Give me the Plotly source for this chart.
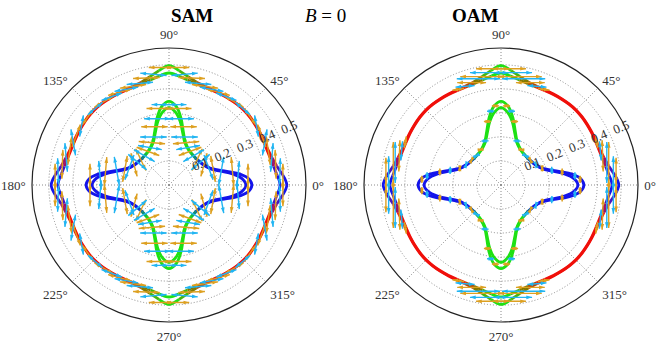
import math
import plotly.graph_objects as go

# ---------------- data ----------------
# Curve radii for theta = 0..90 deg in 5 deg steps (first quadrant);
# the curves are symmetric under reflection in both axes.
quad_angles = list(range(0, 95, 5))
inner_a = [0.345, 0.330, 0.285, 0.230, 0.195, 0.178, 0.168, 0.162, 0.159, 0.158,
           0.159, 0.162, 0.168, 0.178, 0.195, 0.230, 0.285, 0.330, 0.348]
inner_b = [0.320, 0.305, 0.268, 0.222, 0.190, 0.175, 0.166, 0.161, 0.158, 0.157,
           0.158, 0.161, 0.166, 0.175, 0.190, 0.222, 0.268, 0.305, 0.322]
outer_a = [0.490, 0.475, 0.455, 0.443, 0.437, 0.436, 0.437, 0.439, 0.441, 0.442,
           0.441, 0.439, 0.437, 0.436, 0.437, 0.443, 0.458, 0.478, 0.497]
outer_b = [0.462, 0.452, 0.442, 0.436, 0.433, 0.433, 0.435, 0.437, 0.439, 0.440,
           0.439, 0.437, 0.435, 0.433, 0.433, 0.436, 0.444, 0.455, 0.466]

# Arrows, first quadrant: base angle (deg), base radius, direction (deg), length
sam_orange = dict(theta=[4, 11, 19, 28, 40, 52, 62, 70, 78, 86,
                         5, 12, 20, 30, 42, 58, 68, 76, 84],
                  r=[0.475, 0.452, 0.437, 0.437, 0.441, 0.44, 0.437, 0.437, 0.455, 0.49,
                     0.33, 0.27, 0.195, 0.168, 0.158, 0.165, 0.19, 0.25, 0.32],
                  dirs=[90, 92, 98, 110, 125, 150, 165, 172, 178, 180,
                        90, 95, 100, 75, 65, 20, 5, 0, 180],
                  length=[0.11, 0.12, 0.12, 0.10, 0.08, 0.09, 0.10, 0.11, 0.11, 0.10,
                          0.12, 0.12, 0.11, 0.10, 0.10, 0.10, 0.11, 0.11, 0.12])
sam_cyan = dict(theta=[7, 15, 24, 34, 46, 57, 66, 74, 82,
                       8, 15, 24, 36, 50, 63, 72, 80, 87],
                r=[0.465, 0.443, 0.436, 0.439, 0.442, 0.438, 0.436, 0.44, 0.465,
                   0.29, 0.225, 0.18, 0.162, 0.16, 0.175, 0.21, 0.28, 0.335],
                dirs=[88, 85, 80, 100, 140, 160, 170, 175, 5,
                      85, 80, 110, 40, 30, 10, 0, 0, 0],
                length=[0.11, 0.12, 0.11, 0.09, 0.08, 0.09, 0.10, 0.11, 0.11,
                        0.12, 0.12, 0.11, 0.10, 0.10, 0.10, 0.11, 0.11, 0.11])
oam_orange = dict(theta=[4, 10, 16, 24, 66, 74, 80, 86,
                         4, 12, 22, 40, 60, 78, 86],
                  r=[0.48, 0.455, 0.44, 0.436, 0.436, 0.443, 0.458, 0.485,
                     0.33, 0.26, 0.185, 0.16, 0.17, 0.27, 0.33],
                  dirs=[90, 90, 92, 100, 170, 180, 180, 180,
                        90, 90, 95, 120, 170, 180, 180],
                  length=[0.16, 0.20, 0.13, 0.05, 0.05, 0.12, 0.18, 0.14,
                          0.03, 0.03, 0.025, 0.02, 0.025, 0.03, 0.03])
oam_cyan = dict(theta=[6, 12, 19, 70, 78, 84,
                       7, 16, 30, 50, 70, 82],
                r=[0.47, 0.45, 0.437, 0.437, 0.452, 0.47,
                   0.31, 0.22, 0.168, 0.159, 0.195, 0.31],
                dirs=[90, 90, 95, 175, 180, 180,
                      90, 92, 110, 150, 178, 180],
                length=[0.14, 0.17, 0.08, 0.08, 0.18, 0.16,
                        0.03, 0.03, 0.02, 0.02, 0.03, 0.03])

angle_ticks = [0, 45, 90, 135, 180, 225, 270, 315]
angle_labels = ["0°", "45°", "90°", "135°", "180°", "225°", "270°", "315°"]
radial_ticks = [0.1, 0.2, 0.3, 0.4, 0.5]
radial_labels = ["0.1", "0.2", "0.3", "0.4", "0.5"]
panel_titles = ["SAM", "OAM"]

# ---------------- helpers ----------------
def full_curve(q):
    th, rr = [], []
    for a in range(0, 365, 5):
        f = a % 180
        if f > 90:
            f = 180 - f
        th.append(a)
        rr.append(q[f // 5])
    return th, rr

def mix(c1, c2, t):
    return tuple(c1[i] + (c2[i] - c1[i]) * t for i in range(3))

def stop_colour(stops, x):
    for (x0, c0), (x1, c1) in zip(stops, stops[1:]):
        if x0 <= x <= x1:
            t = 0 if x1 == x0 else (x - x0) / (x1 - x0)
            c = mix(c0, c1, t)
            return "rgb(%d,%d,%d)" % c
    c = stops[-1][1]
    return "rgb(%d,%d,%d)" % c

BLUE = (20, 20, 235)
GREEN = (30, 225, 20)
TEAL = (10, 120, 150)
RED = (240, 15, 10)
PURPLE = (110, 20, 160)
OLIVE = (140, 115, 0)
inner_stops = [(0, BLUE), (32, BLUE), (45, TEAL), (57, GREEN), (90, GREEN)]
outer_stops = [(0, BLUE), (4, BLUE), (10, PURPLE), (17, RED), (67, RED), (77, OLIVE), (86, GREEN), (90, GREEN)]

def fold(a):
    f = a % 180
    return 180 - f if f > 90 else f

def colour_runs(th, rr, stops):
    cols = [stop_colour(stops, fold(th[j] + 2.5)) for j in range(len(th) - 1)]
    runs = []
    for j, c in enumerate(cols):
        if runs and runs[-1][0] == c:
            runs[-1][1].append(j)
        else:
            runs.append((c, [j]))
    out = []
    for c, js in runs:
        idx = list(range(js[0], js[-1] + 2))
        out.append([c, [th[i] for i in idx], [rr[i] for i in idx]])
    if len(out) > 1 and out[0][0] == out[-1][0]:
        last = out.pop()
        out[0] = [last[0], last[1] + out[0][1][1:], last[2] + out[0][2][1:]]
    return out

def reflect(arr):
    th, rr, dd, ll = [], [], [], []
    for t, r, d, l in zip(arr["theta"], arr["r"], arr["dirs"], arr["length"]):
        for tt, ddir in ((t, d), (180 - t, 180 - d), (180 + t, d), (360 - t, -d)):
            th.append(tt); rr.append(r); dd.append(ddir); ll.append(l)
    return th, rr, dd, ll

def arrow_trace(arr, colour, sub):
    th, rr, dd, ll = reflect(arr)
    R, T, ANG = [], [], []
    for t, r, d, l in zip(th, rr, dd, ll):
        x0 = r * math.cos(math.radians(t)); y0 = r * math.sin(math.radians(t))
        ux = math.cos(math.radians(d)); uy = math.sin(math.radians(d))
        h = l / 2
        for s in (-1, 1):
            x = x0 + s * h * ux; y = y0 + s * h * uy
            R.append(math.hypot(x, y)); T.append(math.degrees(math.atan2(y, x)))
            ANG.append(90 - d if s == 1 else 270 - d)
        R.append(None); T.append(None); ANG.append(0)
    return go.Scatterpolar(r=R, theta=T, mode="lines+markers", subplot=sub,
                           line=dict(color=colour, width=1.4),
                           marker=dict(symbol="arrow", size=6, color=colour, angle=ANG, angleref="up"),
                           hoverinfo="skip", showlegend=False)

fig = go.Figure()
for k, sub in enumerate(["polar", "polar2"]):
    for q, stops in ((outer_a, outer_stops), (outer_b, outer_stops), (inner_a, inner_stops), (inner_b, inner_stops)):
        th, rr = full_curve(q)
        for col, tseg, rseg in colour_runs(th, rr, stops):
            fig.add_trace(go.Scatterpolar(r=rseg, theta=tseg, mode="lines", subplot=sub,
                                          line=dict(color=col, width=2.8, shape="spline", smoothing=1),
                                          hoverinfo="skip", showlegend=False))
    oa, ca = (sam_orange, sam_cyan) if k == 0 else (oam_orange, oam_cyan)
    fig.add_trace(arrow_trace(oa, "#DDA020", sub))
    fig.add_trace(arrow_trace(ca, "#22B5F2", sub))

W, H = 664, 349
PAD = "\u2007\u2007\u2007\u2007"
def polar_layout(cx):
    rad = 137
    cy = 185
    return dict(
        domain=dict(x=[(cx - rad) / W, (cx + rad) / W], y=[(H - cy - rad) / H, (H - cy + rad) / H]),
        bgcolor="white",
        radialaxis=dict(range=[0, 0.57], tickvals=radial_ticks, ticktext=[PAD + t for t in radial_labels],
                        angle=22.5, side="counterclockwise", tickangle=0, showline=False, ticks="",
                        gridcolor="#8a8a8a", griddash="1px,2px", gridwidth=1,
                        tickfont=dict(family="Liberation Serif", size=13, color="#333")),
        angularaxis=dict(tickvals=angle_ticks, ticktext=angle_labels, direction="counterclockwise",
                         rotation=0, showline=True, linecolor="#222", linewidth=1.2,
                         ticks="outside", ticklen=3, tickcolor="rgba(0,0,0,0)",
                         gridcolor="#8a8a8a", griddash="1px,2px", gridwidth=1,
                         tickfont=dict(family="Liberation Serif", size=13, color="#333")),
    )

fig.update_layout(
    width=W, height=H, margin=dict(l=0, r=0, t=0, b=0),
    paper_bgcolor="white", plot_bgcolor="white",
    polar=polar_layout(169), polar2=polar_layout(501),
    annotations=[
        dict(text="<b>%s</b>" % panel_titles[0], x=169 / W, y=1 - 15 / H, xref="paper", yref="paper",
             yanchor="middle", showarrow=False, font=dict(family="Liberation Serif", size=19, color="black")),
        dict(text="<b>%s</b>" % panel_titles[1], x=501 / W, y=1 - 15 / H, xref="paper", yref="paper",
             yanchor="middle", showarrow=False, font=dict(family="Liberation Serif", size=19, color="black")),
        dict(text="<i>B</i> = 0", x=325 / W, y=1 - 15 / H, xref="paper", yref="paper",
             yanchor="middle", showarrow=False, font=dict(family="Liberation Serif", size=19, color="black")),
    ],
)
fig.write_html("out.html", config={"displayModeBar": False},
               post_script="document.body.style.margin='0';document.body.style.overflow='hidden';")
